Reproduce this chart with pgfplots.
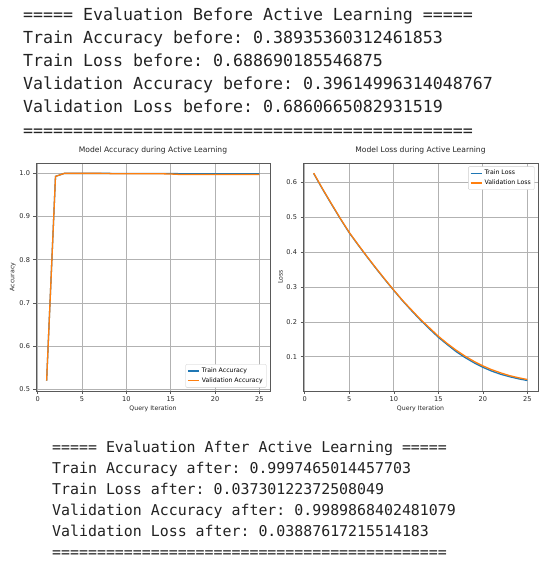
\documentclass[border=0pt]{standalone}
\usepackage{pgfplots}
\pgfplotsset{compat=1.18}
\usepackage{fontspec}
\setmainfont{DejaVu Sans}
\newfontfamily\mono{DejaVu Sans Mono}
\definecolor{mplblue}{HTML}{1F77B4}
\definecolor{mplorange}{HTML}{FF7F0E}
\definecolor{termtext}{HTML}{222222}
\frenchspacing

\pgfplotsset{
  lossplot/.style={
    scale only axis,
    width=234pt, height=228pt,
    anchor=south west,
    xmin=-0.2, xmax=26.2,
    xtick={0,5,...,25},
    grid=major,
    grid style={black!30, line width=0.7pt},
    axis line style={black!65, line width=0.7pt},
    tick style={black!65, line width=0.6pt},
    tick align=outside,
    major tick length=2.5pt,
    xtick pos=bottom, ytick pos=left,
    tick label style={font=\fontsize{6.6}{7.5}\selectfont, text=black!85},
    label style={font=\fontsize{6.2}{7.5}\selectfont, text=black!85},
    title style={font=\fontsize{7.6}{8.5}\selectfont, text=black!85, yshift=-1pt},
    legend style={font=\fontsize{6.2}{7}\selectfont, draw=black!20, rounded corners=1pt,
      cells={anchor=west}, inner sep=1.5pt, row sep=-0.5pt},
    legend image post style={line width=1.3pt},
    legend image code/.code={\draw[#1] (0cm,0cm) -- (0.4cm,0cm);},
    /pgf/number format/assume math mode=true,
    yticklabel style={/pgf/number format/.cd, fixed, fixed zerofill, precision=1},
    xlabel={Query Iteration},
    xlabel style={yshift=3pt},
    ylabel style={yshift=-3pt},
  }
}

\begin{document}
\begin{tikzpicture}
\path[use as bounding box] (0,0) rectangle (550pt,-567pt);

% top console text
\begin{scope}[every node/.style={anchor=base west, inner sep=0pt, text=termtext,
    font=\mono\fontsize{16.6}{18}\selectfont}]
\node at (23pt,-21pt) {===== Evaluation Before Active Learning =====};
\node at (23pt,-44pt) {Train Accuracy before: 0.38935360312461853};
\node at (23pt,-67pt) {Train Loss before: 0.688690185546875};
\node at (23pt,-90pt) {Validation Accuracy before: 0.39614996314048767};
\node at (23pt,-113pt) {Validation Loss before: 0.6860665082931519};
\node at (23pt,-136pt) {=============================================};
\end{scope}

% bottom console text
\begin{scope}[every node/.style={anchor=base west, inner sep=0pt, text=termtext,
    font=\mono\fontsize{14.9}{16}\selectfont}]
\node at (52pt,-452pt) {===== Evaluation After Active Learning =====};
\node at (52pt,-473pt) {Train Accuracy after: 0.9997465014457703};
\node at (52pt,-494pt) {Train Loss after: 0.03730122372508049};
\node at (52pt,-515pt) {Validation Accuracy after: 0.9989868402481079};
\node at (52pt,-536pt) {Validation Loss after: 0.03887617215514183};
\node at (52pt,-557pt) {============================================};
\end{scope}

\begin{axis}[lossplot,
  at={(36pt,-391pt)},
  title={Model Accuracy during Active Learning},
  ylabel={Accuracy},
  ymin=0.496, ymax=1.024,
  ytick={0.5,0.6,...,1.0},
  legend pos=south east,
  legend style={at={(0.985,0.015)}},
]
\addplot[mplblue, line width=1.3pt] coordinates {
  (1,0.520) (2,0.993) (3,1.000) (4,1.000) (5,1.000) (6,1.000) (7,1.000)
  (8,1.000) (9,0.9995) (10,0.9995) (11,0.9995) (12,0.9995) (13,0.9995)
  (14,0.9995) (15,0.9995) (16,0.9993) (17,0.9993) (18,0.9993) (19,0.9993)
  (20,0.9993) (21,0.9993) (22,0.9993) (23,0.9993) (24,0.9993) (25,0.9993)
};
\addlegendentry{Train Accuracy}
\addplot[mplorange, line width=1.3pt] coordinates {
  (1,0.520) (2,0.993) (3,1.000) (4,1.000) (5,1.000) (6,1.000) (7,1.000)
  (8,0.9995) (9,0.999) (10,0.999) (11,0.999) (12,0.999) (13,0.999)
  (14,0.999) (15,0.9985) (16,0.9975) (17,0.9975) (18,0.9975) (19,0.9975)
  (20,0.9975) (21,0.9975) (22,0.9975) (23,0.9975) (24,0.9975) (25,0.9975)
};
\addlegendentry{Validation Accuracy}
\end{axis}

\begin{axis}[lossplot,
  at={(303pt,-391pt)},
  width=235pt,
  title={Model Loss during Active Learning},
  ylabel={Loss},
  ymin=0.002, ymax=0.655,
  ytick={0.1,0.2,...,0.6},
  legend pos=north east,
  legend style={at={(0.985,0.985)}},
]
\addplot[mplblue, line width=1.3pt] coordinates {
  (1,0.625) (2,0.580) (3,0.537) (4,0.495) (5,0.455) (6,0.420) (7,0.386)
  (8,0.353) (9,0.321) (10,0.290) (11,0.260) (12,0.232) (13,0.205)
  (14,0.180) (15,0.156) (16,0.135) (17,0.115) (18,0.098) (19,0.083)
  (20,0.070) (21,0.059) (22,0.050) (23,0.043) (24,0.037) (25,0.032)
};
\addlegendentry{Train Loss}
\addplot[mplorange, line width=1.3pt] coordinates {
  (1,0.626) (2,0.581) (3,0.538) (4,0.496) (5,0.456) (6,0.421) (7,0.387)
  (8,0.354) (9,0.322) (10,0.291) (11,0.261) (12,0.234) (13,0.207)
  (14,0.183) (15,0.159) (16,0.138) (17,0.119) (18,0.102) (19,0.087)
  (20,0.074) (21,0.063) (22,0.054) (23,0.046) (24,0.040) (25,0.035)
};
\addlegendentry{Validation Loss}
\end{axis}
\end{tikzpicture}
\end{document}
